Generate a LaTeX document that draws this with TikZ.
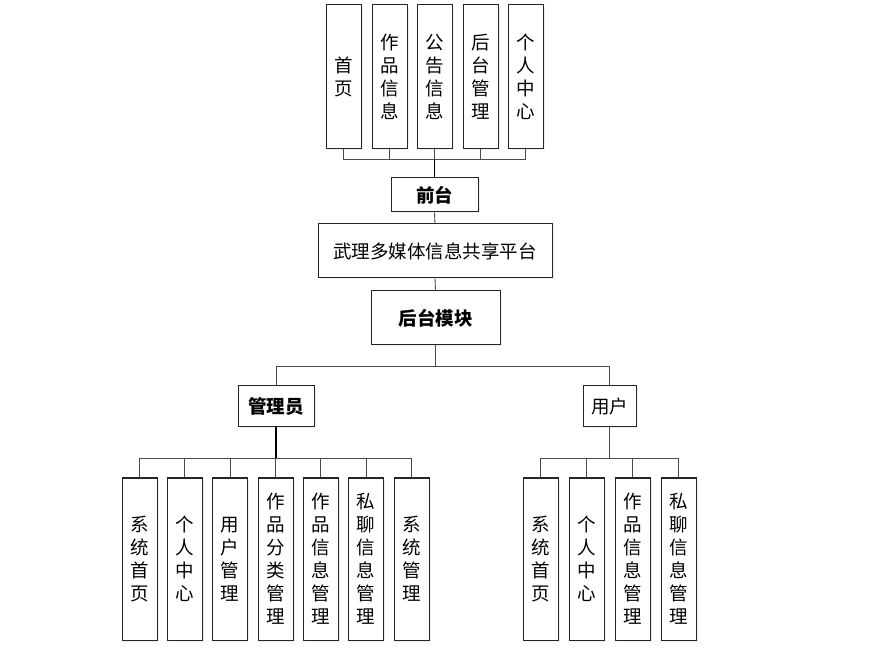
\documentclass[tikz,border=0pt]{standalone}
\usepackage{fontspec}
\setmainfont{Noto Sans CJK SC}
\usetikzlibrary{shadows}
\begin{document}
\begin{tikzpicture}[x=1pt,y=-1pt,
  box/.style={draw=black!85,line width=1pt,fill=white,inner sep=0pt,align=center,
    font=\fontsize{18.5}{23}\selectfont,
    drop shadow={opacity=0.12,shadow xshift=1.5pt,shadow yshift=-1.5pt}},
  vbox/.style={box,minimum width=35pt},
  bfbox/.style={box,font=\fontsize{18.5}{23}\selectfont\bfseries},
  conn/.style={draw=black!70,line width=0.9pt},
  trunk/.style={draw=black,line width=1.8pt}]
\useasboundingbox (0,0) rectangle (879,660);
% top
\foreach \n/\x/\t in {t1/343.5/首\\页, t2/389.5/作\\品\\信\\息, t3/434.5/公\\告\\信\\息, t4/480.5/后\\台\\管\\理, t5/525.5/个\\人\\中\\心}
  \node[vbox,minimum height=144pt] (\n) at (\x,77) {\t};
\node[bfbox,minimum width=87pt,minimum height=34pt] (ft) at (434.5,195) {前台};
\node[box,minimum width=234pt,minimum height=54pt] (pf) at (435,251) {武理多媒体信息共享平台};
\node[bfbox,minimum width=129pt,minimum height=54pt] (bk) at (435.5,318) {后台模块};
\coordinate (busT) at (434.5,159);
\foreach \n in {t1,t2,t3,t4,t5} \draw[conn] (\n.south) |- (busT);
\draw[trunk] (busT) -- (ft.north);
\draw[conn] (ft.south) -- (pf.north);
\draw[conn] (pf.south) -- (bk.north);
% middle
\node[bfbox,minimum width=76pt,minimum height=41pt] (adm) at (276,406.5) {管理员};
\node[box,minimum width=53pt,minimum height=41pt] (usr) at (609.5,406.5) {用户};
\coordinate (busB) at (435.5,366);
\draw[conn] (bk.south) -- (busB);
\draw[conn] (busB) -| (adm.north);
\draw[conn] (busB) -| (usr.north);
% admin children
\foreach \n/\x/\t in {a1/139.5/系\\统\\首\\页, a2/184.5/个\\人\\中\\心, a3/230/用\\户\\管\\理, a4/275.5/作\\品\\分\\类\\管\\理, a5/320.5/作\\品\\信\\息\\管\\理, a6/366/私\\聊\\信\\息\\管\\理, a7/411.5/系\\统\\管\\理}
  \node[vbox,minimum height=162pt] (\n) at (\x,559) {\t};
\coordinate (busA) at (276,458);
\foreach \n in {a1,a2,a3,a4,a5,a6,a7} \draw[conn] (\n.north) |- (busA);
\draw[trunk] (adm.south) -- (busA);
% user children
\foreach \n/\x/\t in {u1/540.5/系\\统\\首\\页, u2/586.5/个\\人\\中\\心, u3/632.5/作\\品\\信\\息\\管\\理, u4/678.5/私\\聊\\信\\息\\管\\理}
  \node[vbox,minimum height=162pt] (\n) at (\x,559) {\t};
\coordinate (busU) at (609.5,458);
\foreach \n in {u1,u2,u3,u4} \draw[conn] (\n.north) |- (busU);
\draw[conn,line width=1.3pt] (usr.south) -- (busU);
\end{tikzpicture}
\end{document}
